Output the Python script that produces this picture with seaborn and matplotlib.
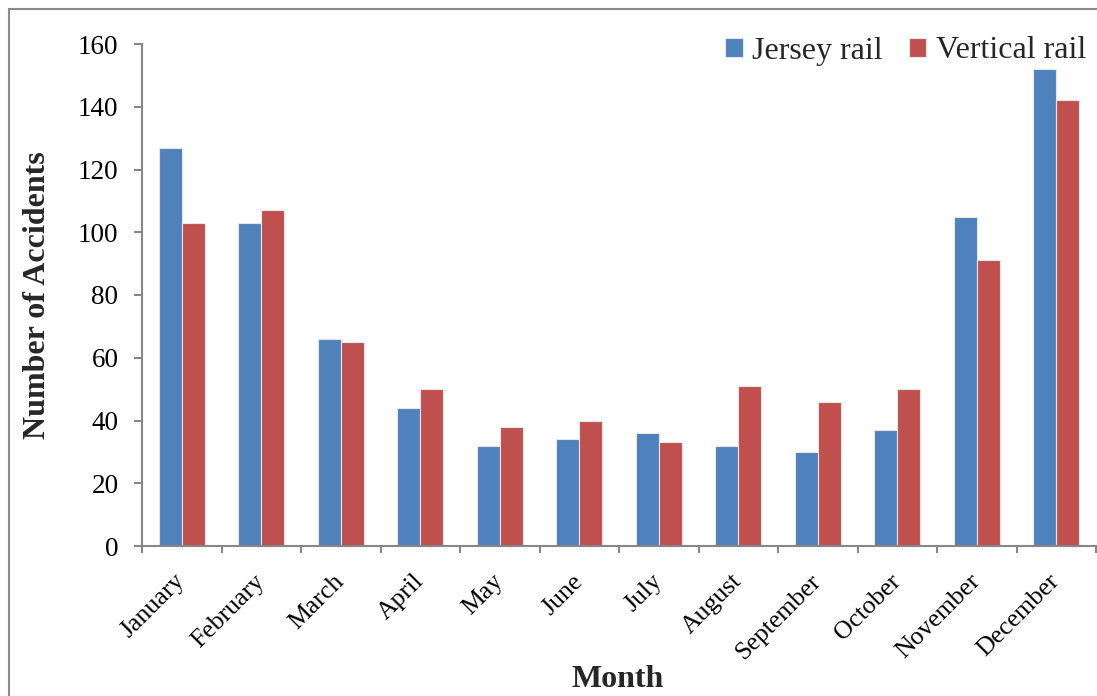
import matplotlib
matplotlib.use("Agg")
import matplotlib.pyplot as plt
import seaborn as sns
import pandas as pd
from matplotlib.patches import Rectangle

months = ["January", "February", "March", "April", "May", "June", "July",
          "August", "September", "October", "November", "December"]
jersey = [127, 103, 66, 44, 32, 34, 36, 32, 30, 37, 105, 152]
vertical = [103, 107, 65, 50, 38, 40, 33, 51, 46, 50, 91, 142]
series = ["Jersey rail", "Vertical rail"]
colors = ["#4F81BD", "#C0504D"]
yticks = [0, 20, 40, 60, 80, 100, 120, 140, 160]

df = pd.DataFrame({
    "Month": months * 2,
    "Accidents": jersey + vertical,
    "Type": [series[0]] * len(months) + [series[1]] * len(months),
})

sns.set_theme(style="white")
plt.rcParams["font.family"] = ["Liberation Serif", "DejaVu Serif"]

fig = plt.figure(figsize=(10.97, 6.96), dpi=100)
ax = fig.add_axes([142 / 1097, 1 - 546 / 696, 954 / 1097, (546 - 44) / 696])

sns.barplot(data=df, x="Month", y="Accidents", hue="Type", order=months,
            hue_order=series, palette=colors, width=0.58, ax=ax,
            edgecolor="#e6e6e6", linewidth=0.8, saturation=1)

ax.set_ylim(0, 160)
ax.set_xlim(-0.5, len(months) - 0.5)
ax.set_yticks(yticks)
ax.set_yticklabels([str(v) for v in yticks], fontsize=19.5)
ax.set_xticks(range(len(months)))
ax.set_xticklabels(months, fontsize=18.5, rotation=45, ha="right",
                   rotation_mode="anchor", va="center")
ax.set_xticks([i - 0.5 for i in range(len(months) + 1)], minor=True)

for s in ["top", "right"]:
    ax.spines[s].set_visible(False)
for s in ["left", "bottom"]:
    ax.spines[s].set_color("#868686")
    ax.spines[s].set_linewidth(1.5)

ax.tick_params(axis="y", which="major", left=True, length=6, width=1.5,
               color="#868686", pad=11, labelcolor="black")
ax.tick_params(axis="x", which="major", bottom=True, length=0, pad=23,
               labelcolor="black")
ax.tick_params(axis="x", which="minor", bottom=True, length=5, width=1.5,
               color="#868686")

ax.set_ylabel("Number of Accidents", fontsize=23, fontweight="bold")
ax.yaxis.set_label_coords(-0.094, 0.5)
ax.set_xlabel("Month", fontsize=23, fontweight="bold", va="top")
ax.xaxis.set_label_coords(0.499, -0.237)

ax.legend(loc="center right", bbox_to_anchor=(1086 / 1097, 1 - 51 / 696),
          bbox_transform=fig.transFigure, ncol=2, frameon=False, fontsize=23,
          handlelength=0.55, handleheight=0.55, handletextpad=0.3,
          columnspacing=0.8, borderpad=0, borderaxespad=0)

fig.patches.append(Rectangle((9 / 1097, -0.5), 2, 0.5 + (1 - 9 / 696),
                             transform=fig.transFigure, fill=False,
                             edgecolor="#8c8c8c", linewidth=1.5))

fig.savefig("out.png", dpi=100)
